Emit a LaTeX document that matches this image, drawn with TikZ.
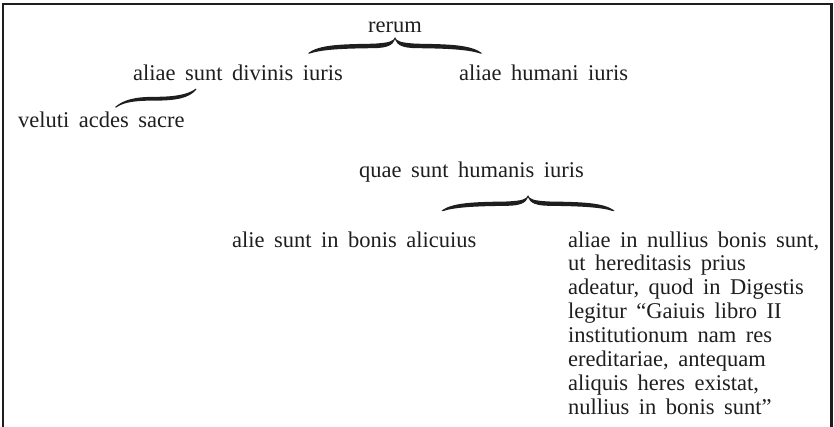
\documentclass[tikz,border=0pt]{standalone}
\usepackage{fontspec}
\setmainfont{Liberation Serif}
\definecolor{ink}{HTML}{1E1E1E}
\tikzset{
  txt/.style={font=\fontsize{22.5}{23.9}\selectfont, execute at begin node={\spaceskip=9.5pt\relax}, text=ink, inner sep=0pt, anchor=base west, align=left},
  frameline/.style={draw=ink, line width=2.5pt},
  inkfill/.style={fill=ink, draw=none}
}
% curly brace with tip at (#1,#2), half width #3, height #4
\newcommand{\curlybrace}[4]{%
  \foreach \s in {1,-1}{%
    \fill[inkfill, shift={(#1,#2)}, xscale=\s]
      (0,0) .. controls (1.5,4) and (6,5.5) .. ({0.25*#3},{0.4*#4})
      .. controls ({0.6*#3},{0.43*#4}) and ({0.88*#3},{0.45*#4}) .. (#3,#4)
      -- ({#3-1.5},{#4+0.3})
      .. controls ({0.84*#3},{0.76*#4}) and ({0.6*#3},{0.7*#4}) .. ({0.25*#3},{0.68*#4})
      .. controls (8,{0.67*#4}) and (2,{0.5*#4}) .. (0,2) -- cycle;
  }%
}
\begin{document}
\begin{tikzpicture}[x=1pt, y=-1pt]
\useasboundingbox (0,0) rectangle (834,426);
\draw[frameline] (3,427) -- (3,4.2) -- (831.5,4.2) -- (831.5,427);

\node[txt] (rerum) at (368,32) {rerum};
\node[txt] (divinis) at (133,80.5) {aliae sunt divinis iuris};
\node[txt] (humani) at (459,80.5) {aliae humani iuris};
\node[txt] (veluti) at (18,127) {veluti acdes sacre};
\node[txt] (humanis) at (359,177) {quae sunt humanis iuris};
\node[txt] (bonis) at (232,247) {alie sunt in bonis alicuius};
% base anchor of a multi-line node is the baseline of its last line
\node[txt] (nullius) at (568,414.3) {aliae in nullius bonis sunt,\\ut hereditasis prius\\adeatur, quod in Digestis\\legitur \char"201C Gaiuis libro II\\institutionum nam res\\ereditariae, antequam\\aliquis heres existat,\\nullius in bonis sunt\char"201D};

\curlybrace{395}{37.3}{87}{16}
\curlybrace{528}{195.3}{86.5}{15.5}

% half brace under "aliae sunt divinis iuris"
\fill[inkfill] (115,107) .. controls (124,99.5) and (135,96.8) .. (155,96.8)
  .. controls (175,96.8) and (188,94.5) .. (196,88.5)
  -- (196.4,89.5) .. controls (189,98.5) and (175,100.6) .. (155,100.6)
  .. controls (135,100.6) and (124,102) .. (116,107.6) -- cycle;
\end{tikzpicture}
\end{document}
